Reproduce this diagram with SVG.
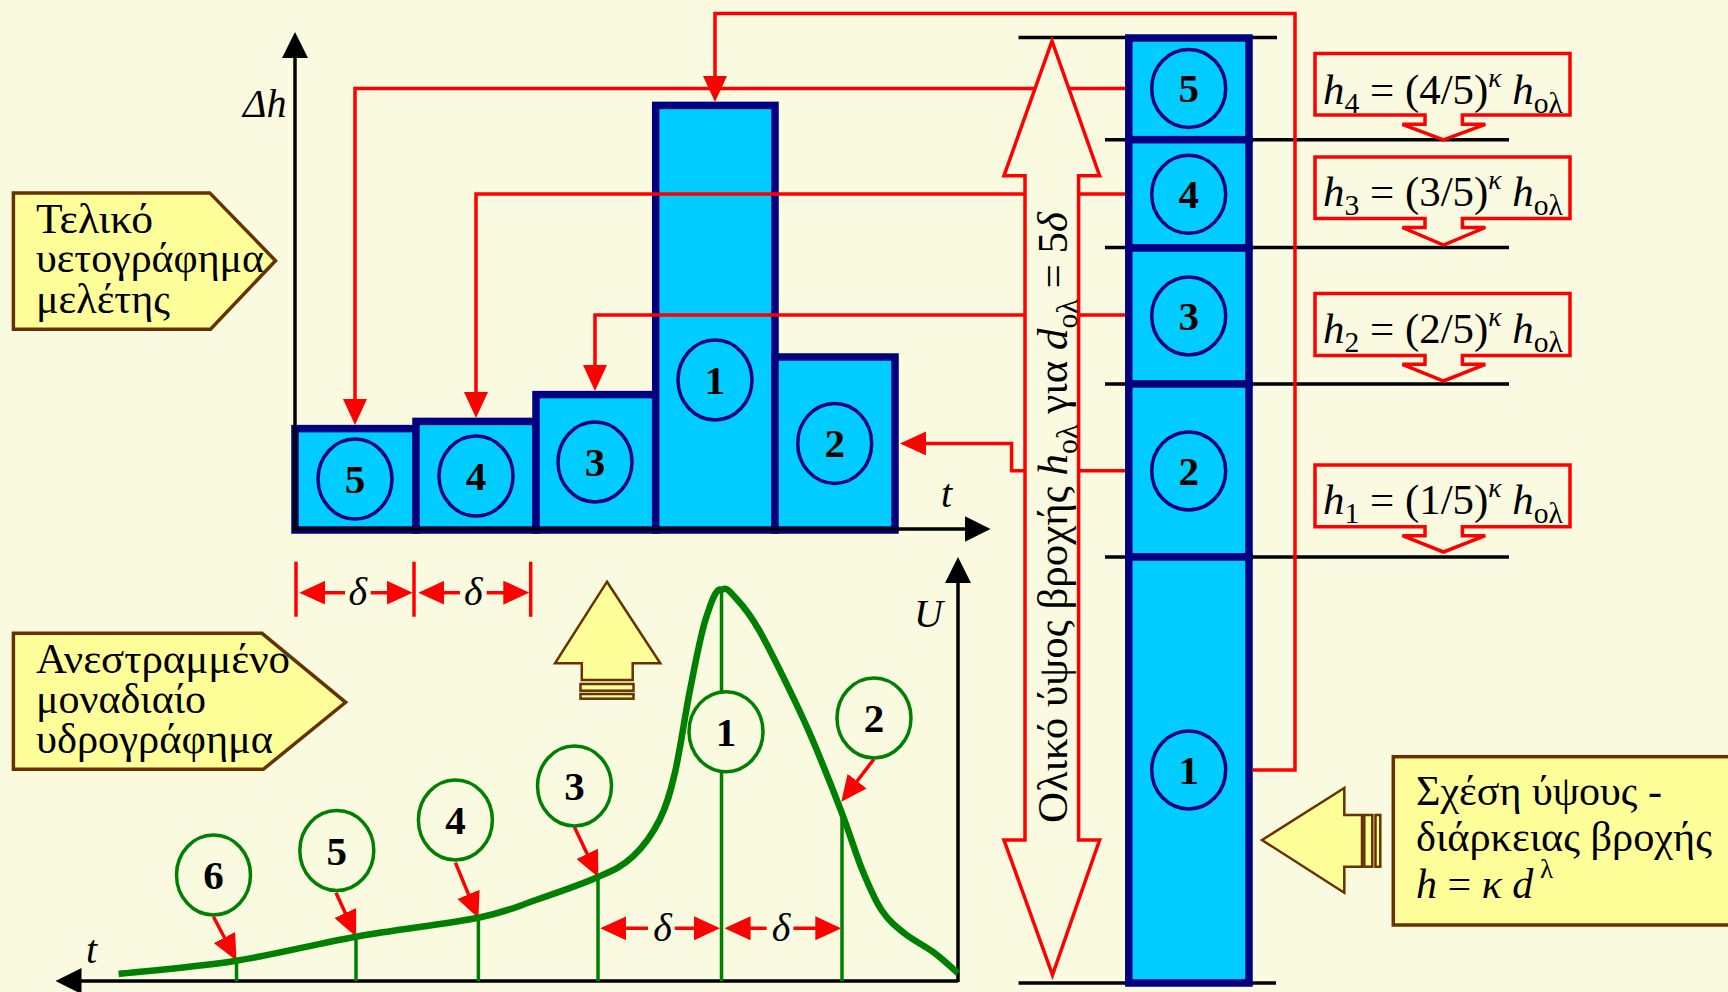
<svg xmlns="http://www.w3.org/2000/svg" width="1728" height="992" viewBox="0 0 1728 992" font-family="'Liberation Serif', 'Times New Roman', 'DejaVu Serif', serif">
<defs>
<marker id="ar" viewBox="0 0 26 24" refX="16" refY="12" markerWidth="26" markerHeight="24" markerUnits="userSpaceOnUse" orient="auto"><path d="M0,0 L26,12 L0,24 Z" fill="#FF0000"/></marker>
<marker id="ab" viewBox="0 0 26 26" refX="16" refY="13" markerWidth="26" markerHeight="26" markerUnits="userSpaceOnUse" orient="auto"><path d="M0,0 L26,13 L0,26 Z" fill="#000"/></marker>
</defs>
<style>
text{font-family:'Liberation Serif','Times New Roman','DejaVu Serif',serif}
.bar{fill:#00CCFF;stroke:#000080;stroke-width:7.5}
.bc{fill:none;stroke:#000080;stroke-width:3.5}
.gc{fill:#FAFAE1;stroke:#008000;stroke-width:3.5}
.num{font-weight:bold;font-size:41px;text-anchor:middle;fill:#000}
.red{fill:none;stroke:#FF0000;stroke-width:3.5}
.blk{fill:none;stroke:#000;stroke-width:3.5}
.grn{fill:none;stroke:#008000;stroke-width:3.5}
.curve{fill:none;stroke:#008000;stroke-width:6.5;stroke-linejoin:round;stroke-linecap:butt}
.yb{fill:#FFFF99;stroke:#663300;stroke-width:3.5}
.ya{fill:#FFFF99;stroke:#663300;stroke-width:2.5}
.t{font-size:40px;fill:#000}
.lb{font-size:42px;fill:#000}
.fm{font-size:42px;fill:#000}
.i{font-style:italic}
.sub{font-size:29px}
.sup{font-size:27px}
.callout{fill:#FAFAE1;stroke:#FF0000;stroke-width:3.5}
.big{fill:#FAFAE1;stroke:#FF0000;stroke-width:3.5}
</style>
<rect x="0" y="0" width="1728" height="992" fill="#FAFAE1"/>

<!-- reference lines at column -->
<g id="levels" class="blk">
<path d="M1018.5,37.5 H1277"/>
<path d="M1105,139.7 H1509"/>
<path d="M1105,247.5 H1509"/>
<path d="M1105,384 H1509"/>
<path d="M1105,557 H1509"/>
<path d="M1018.5,983 H1276"/>
</g>

<!-- histogram bars -->
<g id="bar5"><rect class="bar" x="295" y="428.6" width="121" height="101.4"/><ellipse class="bc" cx="355" cy="479" rx="37" ry="40"/><text class="num" x="355" y="493">5</text></g>
<g id="bar4"><rect class="bar" x="416" y="421.4" width="120" height="108.6"/><ellipse class="bc" cx="476" cy="476" rx="37" ry="40"/><text class="num" x="476" y="490">4</text></g>
<g id="bar3"><rect class="bar" x="536" y="394.6" width="119.7" height="135.4"/><ellipse class="bc" cx="595" cy="462" rx="37" ry="40"/><text class="num" x="595" y="476">3</text></g>
<g id="bar1"><rect class="bar" x="655.7" y="105.4" width="119.3" height="424.6"/><ellipse class="bc" cx="715" cy="380" rx="37" ry="40"/><text class="num" x="715" y="394">1</text></g>
<g id="bar2"><rect class="bar" x="775" y="357" width="120" height="173"/><ellipse class="bc" cx="834.7" cy="443.4" rx="37" ry="40"/><text class="num" x="834.7" y="457.4">2</text></g>

<!-- column -->
<g id="seg5"><rect class="bar" x="1128.8" y="38" width="120.2" height="101.7"/><ellipse class="bc" cx="1188.7" cy="88.4" rx="37" ry="39"/><text class="num" x="1188.7" y="102.4">5</text></g>
<g id="seg4"><rect class="bar" x="1128.8" y="139.7" width="120.2" height="108.3"/><ellipse class="bc" cx="1188.7" cy="194.3" rx="37" ry="39"/><text class="num" x="1188.7" y="208.3">4</text></g>
<g id="seg3"><rect class="bar" x="1128.8" y="248" width="120.2" height="136"/><ellipse class="bc" cx="1188.7" cy="316" rx="37" ry="39"/><text class="num" x="1188.7" y="330">3</text></g>
<g id="seg2"><rect class="bar" x="1128.8" y="384" width="120.2" height="173"/><ellipse class="bc" cx="1188.7" cy="470.9" rx="37" ry="39"/><text class="num" x="1188.7" y="484.9">2</text></g>
<g id="seg1"><rect class="bar" x="1128.8" y="557" width="120.2" height="426"/><ellipse class="bc" cx="1188.7" cy="770" rx="37" ry="39"/><text class="num" x="1188.7" y="784">1</text></g>

<!-- connectors -->
<g id="connectors">
<path class="red" d="M1125,88.6 H355 V415" marker-end="url(#ar)"/>
<path class="red" d="M1125,194 H476 V408" marker-end="url(#ar)"/>
<path class="red" d="M1125,315 H595 V381" marker-end="url(#ar)"/>
<path class="red" d="M1253,770 H1295 V13.6 H715 V92" marker-end="url(#ar)"/>
<path class="red" d="M1125,470.7 H1011.6 V443.4 H910" marker-end="url(#ar)"/>
<path class="red" d="M213.5,916.7 L231.9,951.8" marker-end="url(#ar)"/>
<path class="red" d="M336,892.7 L351.9,927.6" marker-end="url(#ar)"/>
<path class="red" d="M455.4,862.7 L474.6,909.1" marker-end="url(#ar)"/>
<path class="red" d="M574.5,827.3 L594,868.3" marker-end="url(#ar)"/>
<path class="red" d="M873.8,759.3 L847.4,793.8" marker-end="url(#ar)"/>
</g>

<!-- big double arrow with total depth text -->
<g id="total">
<polygon class="big" points="1052,41 1099.6,175.7 1078.6,175.7 1078.6,840 1099.6,840 1052.5,975 1004,840 1025,840 1025,175.7 1004,175.7"/>
<text class="lb" font-size="43" textLength="611" lengthAdjust="spacingAndGlyphs" transform="translate(1067,823) rotate(-90)">Ολικό ύψος βροχής <tspan class="i">h</tspan><tspan class="sub" dy="10">ολ</tspan><tspan dy="-10"> για </tspan><tspan class="i">d</tspan><tspan class="sub" dy="10">ολ</tspan><tspan dy="-10"> = 5</tspan><tspan class="i">δ</tspan></text>
</g>

<!-- axes -->
<g id="axes" class="blk">
<path d="M295,532 V42" marker-end="url(#ab)"/>
<path d="M293,529 H980.5" marker-end="url(#ab)"/>
<path d="M958,982 V567" marker-end="url(#ab)"/>
<path d="M958,981 H65.5" marker-end="url(#ab)"/>
</g>
<text class="t i" x="243" y="117">Δh</text>
<text class="t i" x="941" y="507">t</text>
<text class="t i" x="914" y="627">U</text>
<text class="t i" x="86" y="963">t</text>

<!-- formula callouts -->
<g id="h4"><path class="callout" d="M1315,53.6 H1570 V115 H1462.4 V124.3 H1485.3 L1443.5,140 L1402.4,124.3 H1425 V115 H1315 Z"/><text class="fm" x="1323" y="103.5" textLength="240" lengthAdjust="spacingAndGlyphs"><tspan class="i">h</tspan><tspan class="sub" dy="9">4</tspan><tspan dy="-9"> = (4/5)</tspan><tspan class="i sup" dy="-17">κ</tspan><tspan class="i" dy="17"> h</tspan><tspan class="sub" dy="9">ολ</tspan></text></g>
<g id="h3"><path class="callout" d="M1315,157 H1570 V218.6 H1462.4 V227.5 H1485.3 L1443.5,245 L1402.4,227.5 H1425 V218.6 H1315 Z"/><text class="fm" x="1323" y="206.4" textLength="240" lengthAdjust="spacingAndGlyphs"><tspan class="i">h</tspan><tspan class="sub" dy="9">3</tspan><tspan dy="-9"> = (3/5)</tspan><tspan class="i sup" dy="-17">κ</tspan><tspan class="i" dy="17"> h</tspan><tspan class="sub" dy="9">ολ</tspan></text></g>
<g id="h2"><path class="callout" d="M1315,293.6 H1570 V355.4 H1462.4 V364.3 H1485.3 L1443.5,381 L1402.4,364.3 H1425 V355.4 H1315 Z"/><text class="fm" x="1323" y="342.9" textLength="240" lengthAdjust="spacingAndGlyphs"><tspan class="i">h</tspan><tspan class="sub" dy="9">2</tspan><tspan dy="-9"> = (2/5)</tspan><tspan class="i sup" dy="-17">κ</tspan><tspan class="i" dy="17"> h</tspan><tspan class="sub" dy="9">ολ</tspan></text></g>
<g id="h1"><path class="callout" d="M1315,465 H1570 V526.8 H1462.4 V535.7 H1485.3 L1443.5,552 L1402.4,535.7 H1425 V526.8 H1315 Z"/><text class="fm" x="1323" y="514.3" textLength="240" lengthAdjust="spacingAndGlyphs"><tspan class="i">h</tspan><tspan class="sub" dy="9">1</tspan><tspan dy="-9"> = (1/5)</tspan><tspan class="i sup" dy="-17">κ</tspan><tspan class="i" dy="17"> h</tspan><tspan class="sub" dy="9">ολ</tspan></text></g>

<!-- left labels -->
<g id="label-hyetograph"><polygon class="yb" points="13.4,192.9 209.7,192.9 275.5,260.7 210.5,329.3 13.4,329.3"/><text class="lb" x="36" y="233" textLength="117" lengthAdjust="spacingAndGlyphs">Τελικό</text><text class="lb" x="36" y="272" textLength="228" lengthAdjust="spacingAndGlyphs">υετογράφημα</text><text class="lb" x="36" y="312.5" textLength="134" lengthAdjust="spacingAndGlyphs">μελέτης</text></g>
<g id="label-uh"><polygon class="yb" points="13.4,633.3 262,633.3 345.6,702.3 263.3,769.3 13.4,769.3"/><text class="lb" x="36" y="672.7" textLength="254" lengthAdjust="spacingAndGlyphs">Ανεστραμμένο</text><text class="lb" x="36" y="713.3" textLength="170" lengthAdjust="spacingAndGlyphs">μοναδιαίο</text><text class="lb" x="36" y="753.3" textLength="237" lengthAdjust="spacingAndGlyphs">υδρογράφημα</text></g>
<g id="label-idf"><rect class="yb" x="1393.3" y="756.7" width="360" height="168.3"/><text class="lb" x="1416" y="805" textLength="246" lengthAdjust="spacingAndGlyphs">Σχέση ύψους -</text><text class="lb" x="1416" y="850.5" textLength="296" lengthAdjust="spacingAndGlyphs">διάρκειας βροχής</text><text class="lb" x="1416" y="898"><tspan class="i">h</tspan> = <tspan class="i">κ d</tspan><tspan class="sup" dy="-20"> λ</tspan></text></g>

<!-- hollow yellow arrows -->
<g id="arrow-up"><polygon class="ya" points="607,581.7 660.3,663.3 632.7,663.3 632.7,680 581.8,680 581.8,663.3 555,663.3"/><rect class="ya" x="580.5" y="684" width="53" height="6.7"/><rect class="ya" x="580.5" y="694" width="53" height="4.7"/></g>
<g id="arrow-left"><polygon class="ya" points="1262,840 1344.3,788 1344.3,815 1362,815 1362,866.7 1344.3,866.7 1344.3,892.7"/><rect class="ya" x="1364.3" y="815" width="8" height="51.7"/><rect class="ya" x="1375.5" y="815" width="4.8" height="51.7"/></g>

<!-- top delta dimension -->
<g id="delta-top">
<path class="red" d="M296,561.7 V616.7 M414,561.7 V616.7 M530.7,561.7 V616.7"/>
<path class="red" d="M345,592.7 H309.3" marker-end="url(#ar)"/>
<path class="red" d="M370.7,592.7 H402.7" marker-end="url(#ar)"/>
<path class="red" d="M460,592.7 H428.3" marker-end="url(#ar)"/>
<path class="red" d="M486.7,592.7 H519.3" marker-end="url(#ar)"/>
<text class="t i" x="357.8" y="605" text-anchor="middle">δ</text>
<text class="t i" x="473.3" y="605" text-anchor="middle">δ</text>
</g>

<!-- unit hydrograph -->
<g id="hydrograph">
<path class="grn" d="M236.5,960 V981 M356,936 V981 M478.4,917 V981 M598,877 V981 M721.5,590 V981 M842,813 V981"/>
<path class="curve" d="M118.6,974 C138.3,971.8 196.9,966.9 236.5,960.7 C276.1,954.5 315.7,943.9 356,936.7 C396.3,929.5 448.4,923.8 478.4,917.7 C508.4,911.6 515.9,906.8 535.8,900 C555.7,893.2 581.8,884.2 598,877 C614.2,869.8 622.5,866.2 632.7,856.7 C643,847.2 652.5,833.9 659.5,820 C666.5,806.1 669.7,795 674.8,773.3 C679.9,751.6 684.9,715.6 690,690 C695.1,664.4 700.2,636.7 705.4,620 C710.7,603.3 716.4,586.3 721.5,590 C726.6,586.3 729.8,591.6 736,598.3 C742.3,605 750.1,614.7 759,630 C767.9,645.3 780.7,671.7 789.6,690 C798.5,708.3 803.9,719.4 812.6,740 C821.3,760.6 833.7,791.6 842,813.3 C850.3,835 855.7,853.9 862.3,870 C868.9,886.1 874.5,899.4 881.5,910 C888.5,920.6 895.5,926.1 904.4,933.3 C913.3,940.5 926.1,946.6 935,953.3 C943.9,960 954.2,970 958,973.3"/>
</g>
<g id="delta-bottom">
<path class="red" d="M648,928.3 H610.2" marker-end="url(#ar)"/>
<path class="red" d="M674.8,928.3 H710" marker-end="url(#ar)"/>
<path class="red" d="M766.6,928.3 H734.6" marker-end="url(#ar)"/>
<path class="red" d="M793.4,928.3 H831.3" marker-end="url(#ar)"/>
<text class="t i" x="662.5" y="941" text-anchor="middle">δ</text>
<text class="t i" x="781" y="941" text-anchor="middle">δ</text>
</g>
<g id="uh6"><ellipse class="gc" cx="213.5" cy="875" rx="37" ry="40"/><text class="num" x="213.5" y="889">6</text></g>
<g id="uh5"><ellipse class="gc" cx="336.8" cy="850.5" rx="37" ry="40"/><text class="num" x="336.8" y="864.5">5</text></g>
<g id="uh4"><ellipse class="gc" cx="455.4" cy="820" rx="37" ry="40"/><text class="num" x="455.4" y="834">4</text></g>
<g id="uh3"><ellipse class="gc" cx="574.5" cy="786" rx="37" ry="40"/><text class="num" x="574.5" y="800">3</text></g>
<g id="uh1"><ellipse class="gc" cx="726" cy="731.7" rx="37" ry="40"/><text class="num" x="726" y="745.7">1</text></g>
<g id="uh2"><ellipse class="gc" cx="874" cy="718" rx="37" ry="40"/><text class="num" x="874" y="732">2</text></g>
</svg>
